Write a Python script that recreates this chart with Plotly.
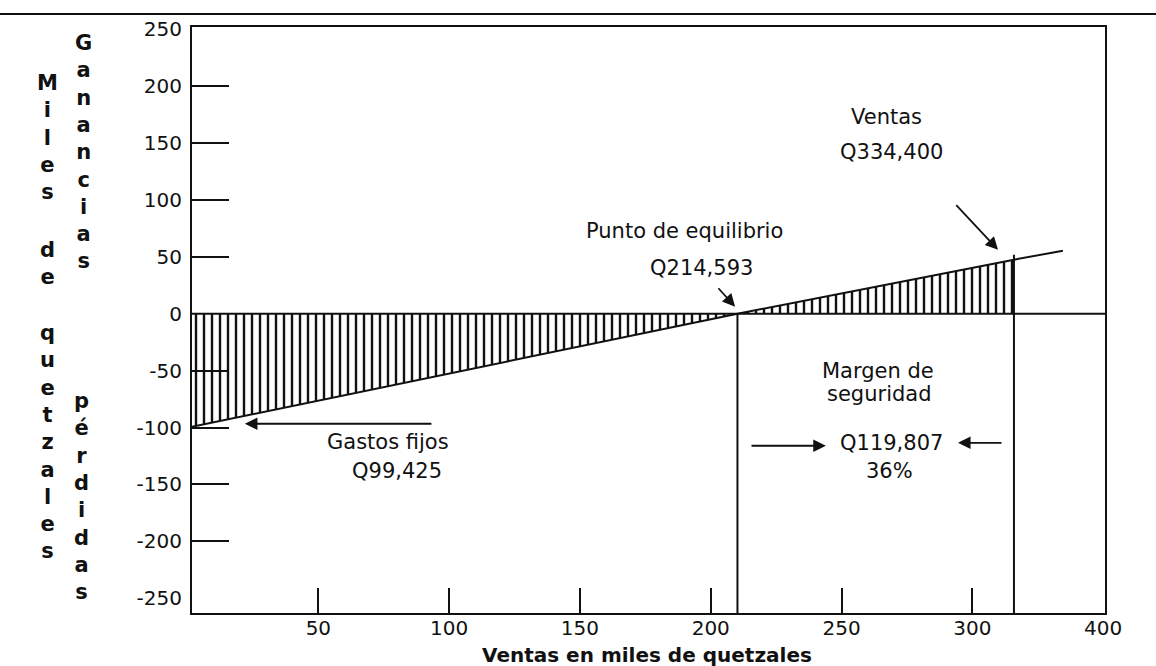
# Punto de equilibrio: ganancias / pérdidas contra ventas

import plotly.graph_objects as go

# datos (miles de quetzales)
ventas = [1.7, 210.2, 315.9, 334.6]        # inicio, equilibrio, ventas, fin de la recta
resultado = [-99.4, 0.0, 47.5, 55.4]       # ganancia (+) / pérdida (-)
tope_linea_ventas = 51.8

y_ticks = [250, 200, 150, 100, 50, 0, -50, -100, -150, -200, -250]
y_etiquetas = ["250", "200", "150", "100", "50", "0", "-50", "-100", "-150", "-200", "-250"]
y_marcas = [200, 150, 100, 50, -50, -100, -150, -200]
x_ticks = [50, 100, 150, 200, 250, 300, 350]
x_etiquetas = ["50", "100", "150", "200", "250", "300", "400"]
x_marcas = [50, 100, 150, 200, 250, 300]

X_RANGE = [1.7, 350.7]
Y_RANGE = [-263, 252]

FONT = "DejaVu Sans"
NEGRO = "#111111"

# área del gráfico en pixeles
L, R, T, B = 192, 1105, 27, 613
W, H = 1156, 666


def px2paper(xp, yp):
    return (xp - L) / (R - L), (B - yp) / (B - T)


def vertical(palabra):
    return "<br>".join(palabra)


rayado = dict(shape="|", size=8, solidity=0.3, fgcolor=NEGRO, bgcolor="white", fillmode="replace")

fig = go.Figure()

# zona de pérdidas (gastos fijos)
fig.add_trace(go.Scatter(
    x=[ventas[0], ventas[0], ventas[1], ventas[0]],
    y=[0, resultado[0], resultado[1], 0],
    fill="toself", fillpattern=rayado, fillcolor="white",
    mode="lines", line=dict(width=0), hoverinfo="skip",
))
# zona de ganancias (margen de seguridad)
fig.add_trace(go.Scatter(
    x=[ventas[1], ventas[2], ventas[2], ventas[1]],
    y=[resultado[1], resultado[2], 0, 0],
    fill="toself", fillpattern=rayado, fillcolor="white",
    mode="lines", line=dict(width=0), hoverinfo="skip",
))
# recta de resultado
fig.add_trace(go.Scatter(x=ventas, y=resultado, mode="lines",
                         line=dict(color=NEGRO, width=2)))
# líneas verticales: equilibrio y ventas
fig.add_trace(go.Scatter(x=[ventas[1], ventas[1]], y=[0, Y_RANGE[0]], mode="lines",
                         line=dict(color=NEGRO, width=2)))
fig.add_trace(go.Scatter(x=[ventas[2], ventas[2]], y=[tope_linea_ventas, Y_RANGE[0]], mode="lines",
                         line=dict(color=NEGRO, width=2)))

# eje cero
fig.add_shape(type="line", xref="paper", yref="y", x0=0, x1=1, y0=0, y1=0,
              line=dict(color=NEGRO, width=2))
# línea superior de la página
y_top = px2paper(0, 14)[1]
fig.add_shape(type="line", xref="paper", yref="paper",
              x0=px2paper(0, 0)[0], x1=px2paper(W, 0)[0], y0=y_top, y1=y_top,
              line=dict(color=NEGRO, width=2))

textos = [
    ("Ventas", 267.0, 173.1),
    ("Q334,400", 269.2, 142.4),
    ("Punto de equilibrio", 189.8, 72.9),
    ("Q214,593", 196.3, 40.4),
    ("Gastos fijos", 76.6, -112.5),
    ("Q99,425", 80.0, -138.0),
    ("Margen de", 264.0, -50.1),
    ("seguridad", 264.6, -70.3),
    ("Q119,807", 268.9, -113.4),
    ("36%", 268.5, -138.0),
]
for texto, x, y in textos:
    fig.add_annotation(x=x, y=y, text=texto, showarrow=False,
                       font=dict(family=FONT, size=21, color=NEGRO))

# flechas: (punta x, punta y, cola x, cola y)
flechas = [
    (309.8, 56.2, 293.3, 96.7),
    (209.3, 6.2, 202.4, 23.7),
    (21.9, -96.7, 93.8, -96.7),
    (244.0, -116.0, 215.0, -116.0),
    (294.5, -113.4, 311.7, -113.4),
]
for x, y, ax, ay in flechas:
    fig.add_annotation(x=x, y=y, ax=ax, ay=ay, axref="x", ayref="y", text="",
                       showarrow=True, arrowhead=2, arrowsize=1.4, arrowwidth=1.8,
                       arrowcolor=NEGRO, standoff=0)

# títulos del eje Y, letra por letra
for palabra, xp, yp in [("Miles", 47, 137.5), ("de", 47, 263.5), ("quetzales", 47, 442),
                        ("Ganancias", 83, 151.5), ("pérdidas", 81, 497)]:
    xx, yy = px2paper(xp, yp)
    fig.add_annotation(xref="paper", yref="paper", x=xx, y=yy, text=vertical(palabra),
                       showarrow=False, xanchor="center", yanchor="middle",
                       font=dict(family=FONT, size=21, color=NEGRO, weight="bold"))

# título del eje X
xx, yy = px2paper(647, 655)
fig.add_annotation(xref="paper", yref="paper", x=xx, y=yy, text="Ventas en miles de quetzales",
                   showarrow=False, xanchor="center", yanchor="middle",
                   font=dict(family=FONT, size=20, color=NEGRO, weight="bold"))

# título cortado en la parte superior (en el original solo se ve el borde)
xx, yy = px2paper(592, -7)
fig.add_annotation(xref="paper", yref="paper", x=xx, y=yy, text="Gráfica 1",
                   showarrow=False, xanchor="center", yanchor="middle",
                   font=dict(family=FONT, size=20, color=NEGRO, weight="bold"))

eje = dict(showline=True, mirror=True, linecolor=NEGRO, linewidth=2,
           showgrid=False, zeroline=False, ticks="outside", ticklen=0,
           tickfont=dict(family=FONT, size=20, color=NEGRO))

fig.update_xaxes(**eje, range=X_RANGE, tickmode="array", tickvals=x_ticks, ticktext=x_etiquetas,
                 ticklabelstandoff=-4,
                 minor=dict(ticks="inside", tickmode="array", tickvals=x_marcas,
                            ticklen=25, tickwidth=2, tickcolor=NEGRO))
fig.update_yaxes(**eje, range=Y_RANGE, tickmode="array", tickvals=y_ticks, ticktext=y_etiquetas,
                 ticklabelstandoff=4,
                 minor=dict(ticks="inside", tickmode="array", tickvals=y_marcas,
                            ticklen=37, tickwidth=2, tickcolor=NEGRO))

fig.update_layout(
    width=W, height=H,
    margin=dict(l=L, r=W - R, t=T, b=H - B),
    showlegend=False,
    paper_bgcolor="white",
    plot_bgcolor="white",
)

fig.write_html(
    "out.html",
    config={"displayModeBar": False},
    post_script="document.body.style.margin='0';document.documentElement.style.overflow='hidden';",
)
